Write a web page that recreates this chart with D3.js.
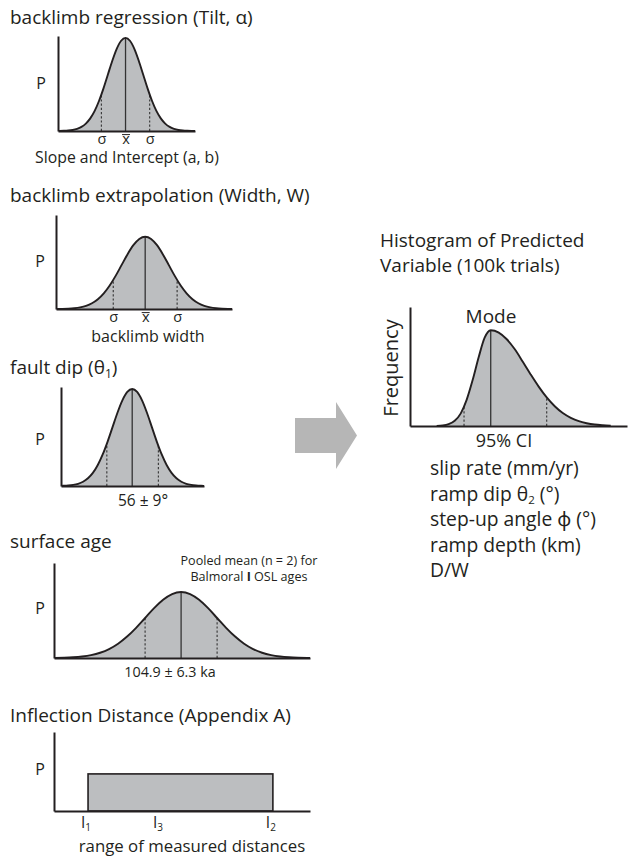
<!DOCTYPE html>
<html><head><meta charset="utf-8">
<script src="https://cdn.jsdelivr.net/npm/d3@7"></script>
<style>
body{margin:0;background:#fff}
text{font-family:"Open Sans","Noto Sans",sans-serif;fill:#231f20}
</style>
</head><body>
<svg id="chart" width="629" height="856"></svg>
<script>
// ---------- DATA ----------
// standard bell shape (z, relative density) used by the four normal panels
const gaussZ = [-4,-3.75,-3.5,-3.25,-3,-2.75,-2.5,-2.25,-2,-1.75,-1.5,-1.25,-1,-0.75,-0.5,-0.25,0,
                0.25,0.5,0.75,1,1.25,1.5,1.75,2,2.25,2.5,2.75,3,3.25,3.5,3.75,4];
const gaussP = [0.0003,0.0009,0.0022,0.0051,0.0111,0.0228,0.0439,0.0796,0.1353,0.2163,0.3247,0.4578,0.6065,0.7548,0.8825,0.9692,1,
                0.9692,0.8825,0.7548,0.6065,0.4578,0.3247,0.2163,0.1353,0.0796,0.0439,0.0228,0.0111,0.0051,0.0022,0.0009,0.0003];

const panelTitles = ["backlimb regression (Tilt, α)", "backlimb extrapolation (Width, W)", "fault dip (θ", "surface age", "Inflection Distance (Appendix A)"];
const xAxisLabels = ["Slope and Intercept (a, b)", "backlimb width", "56 ± 9°", "104.9 ± 6.3 ka", "range of measured distances"];

const regressionDomain = [-3.83, 3.94];
const regressionMarkers = [-1.37, 0, 1.37];
const regressionMarkerLabels = ["σ", "x", "σ"];
const regressionYMax = 1.02;

const widthDomain = [-3.77, 3.67];
const widthMarkers = [-1.35, 0, 1.35];
const widthMarkerLabels = ["σ", "x", "σ"];
const widthYMax = 1.30;

const dipDomain = [-3.62, 3.65];
const dipMarkers = [-1.29, 0, 1.33];
const dipYMax = 1.02;

const ageDomain = [-3.53, 3.58];
const ageMarkers = [-1.0, 0, 1.0];
const ageYMax = 1.44;
const ageNote = ["Pooled mean (n = 2) for", "Balmoral ", "I", " OSL ages"];

const inflDomain = [0, 10];
const inflRange = [1.33, 8.55];
const inflLevel = 1;
const inflYMax = 2.13;
const inflTicks = [1.33, 4.14, 8.55];
const inflTickMain = ["I", "I", "I"];
const inflTickSub = ["1", "3", "2"];

// predicted-variable histogram (skewed)
const histX = [1.23,1.51,1.78,2.06,2.34,2.61,2.89,3.17,3.44,3.72,4.09,4.46,4.83,5.19,5.56,5.93,6.30,6.67,7.04,7.41,7.78,8.14,8.51,8.88,9.25];
const histP = [0.0014,0.0056,0.019,0.054,0.132,0.273,0.482,0.723,0.922,1,0.976,0.906,0.801,0.674,0.539,0.411,0.298,0.206,0.135,0.085,0.050,0.029,0.015,0.0079,0.0039];
const histDomain = [0, 10];
const histYMax = 1.243;
const histMode = 3.72;
const histCI = [2.49, 6.30];
const histTitle = ["Histogram of Predicted", "Variable (100k trials)"];
const outputVars = ["slip rate (mm/yr)", "ramp dip θ|2| (°)", "step-up angle ϕ (°)", "ramp depth (km)", "D/W"];

// ---------- DRAW ----------
const svg = d3.select("#chart");
const FILL = "#bcbec0";
const INK = "#231f20";

function interp(xs, ps, v){
  for(let i=0;i<xs.length-1;i++){
    if(v>=xs[i] && v<=xs[i+1]){
      const t=(v-xs[i])/(xs[i+1]-xs[i]); return ps[i]+t*(ps[i+1]-ps[i]);
    }
  }
  return 0;
}

let clipId = 0;
function curvePanel(o){
  const x = d3.scaleLinear().domain(o.domain).range([o.x0, o.x1]);
  const y = d3.scaleLinear().domain([0, o.yMax]).range([o.yb, o.yt]);
  const g = svg.append("g");
  const id = "clip"+(clipId++);
  svg.append("clipPath").attr("id", id).append("rect")
     .attr("x", o.x0).attr("y", o.yt-5).attr("width", o.x1-o.x0).attr("height", o.yb-o.yt+5);
  const pts = o.xs.map((v,i)=>[v, o.ps[i]]);
  const cg = g.append("g").attr("clip-path", `url(#${id})`);
  cg.append("path").datum(pts)
    .attr("d", d3.area().x(d=>x(d[0])).y0(y(0)).y1(d=>y(d[1])).curve(d3.curveMonotoneX))
    .attr("fill", FILL);
  o.markers.forEach((m,i)=>{
    const h = interp(o.xs, o.ps, m);
    cg.append("line").attr("x1", x(m)).attr("x2", x(m)).attr("y1", y(0)).attr("y2", y(h))
      .attr("stroke", "#333").attr("stroke-width", o.center===i ? 1.3 : 1.1)
      .attr("stroke-dasharray", o.center===i ? null : "2.2,2");
  });
  cg.append("path").datum(pts)
    .attr("d", d3.line().x(d=>x(d[0])).y(d=>y(d[1])).curve(d3.curveMonotoneX))
    .attr("fill", "none").attr("stroke", INK).attr("stroke-width", 1.9);
  axes(g, x, y, o);
  return {x, y, g};
}

function axes(g, x, y, o){
  const xa = d3.axisBottom(x).tickSize(0).tickSizeOuter(0).tickPadding(o.tickPad||4);
  if(o.tickLabels){ xa.tickValues(o.markers).tickFormat((d,i)=>o.tickLabels[i]); }
  else xa.tickValues([]);
  const gx = g.append("g").attr("transform", `translate(0,${o.yb})`).call(xa);
  gx.select(".domain").attr("stroke", INK).attr("stroke-width", 2);
  gx.selectAll("text").attr("font-size", 14.5).attr("font-family", "'Open Sans',sans-serif").attr("fill", INK);
  if(o.tickLabels){
    // bar over the mean symbol (x̄)
    gx.selectAll(".tick").filter((d,i)=>i===o.center)
      .append("line").attr("x1", -4).attr("x2", 4).attr("y1", 3.6).attr("y2", 3.6)
      .attr("stroke", INK).attr("stroke-width", 1);
  }
  const gy = g.append("g").attr("transform", `translate(${o.x0},0)`)
    .call(d3.axisLeft(y).tickValues([]).tickSizeOuter(0));
  gy.select(".domain").attr("stroke", INK).attr("stroke-width", 2);
}

function txt(x, y, s, size, anchor){
  return svg.append("text").attr("x", x).attr("y", y).attr("font-size", size)
    .attr("text-anchor", anchor||"start").text(s);
}

const TS = 19; // title size

// Panel 1
curvePanel({domain: regressionDomain, xs: gaussZ, ps: gaussP, yMax: regressionYMax,
  markers: regressionMarkers, tickLabels: regressionMarkerLabels, center: 1,
  x0: 58, x1: 195, yb: 131, yt: 36, tickPad: 2.5});
txt(10, 24, panelTitles[0], TS);
txt(41, 89, "P", 16, "middle");
txt(127, 163, xAxisLabels[0], 15.8, "middle");

// Panel 2
curvePanel({domain: widthDomain, xs: gaussZ, ps: gaussP, yMax: widthYMax,
  markers: widthMarkers, tickLabels: widthMarkerLabels, center: 1,
  x0: 56, x1: 232, yb: 309, yt: 215, tickPad: 2.5});
txt(10, 202, panelTitles[1], TS);
txt(40, 267, "P", 16, "middle");
txt(148, 342, xAxisLabels[1], 16, "middle");

// Panel 3
curvePanel({domain: dipDomain, xs: gaussZ, ps: gaussP, yMax: dipYMax,
  markers: dipMarkers, center: 1, x0: 61, x1: 204, yb: 486, yt: 387});
const t3 = txt(10, 374, panelTitles[2], TS);
t3.append("tspan").attr("dy", 4).attr("font-size", 12).text("1");
t3.append("tspan").attr("dy", -4).text(")");
txt(40, 445, "P", 16, "middle");
txt(143, 506, xAxisLabels[2], 15.5, "middle");

// Panel 4
curvePanel({domain: ageDomain, xs: gaussZ, ps: gaussP, yMax: ageYMax,
  markers: ageMarkers, center: 1, x0: 54, x1: 310, yb: 658, yt: 563});
txt(10, 548, panelTitles[3], TS);
txt(40, 614, "P", 16, "middle");
txt(170, 677, xAxisLabels[3], 14.3, "middle");
txt(249, 565, ageNote[0], 12.6, "middle");
const n2 = txt(249, 581, ageNote[1], 12.6, "middle");
n2.append("tspan").attr("font-weight", "bold").text(ageNote[2]);
n2.append("tspan").text(ageNote[3]);

// Panel 5 (uniform)
{
  const o = {x0: 54, x1: 310, yb: 811, yt: 732};
  const x = d3.scaleLinear().domain(inflDomain).range([o.x0, o.x1]);
  const y = d3.scaleLinear().domain([0, inflYMax]).range([o.yb, o.yt]);
  const g = svg.append("g");
  g.append("rect").attr("x", x(inflRange[0])).attr("width", x(inflRange[1])-x(inflRange[0]))
    .attr("y", y(inflLevel)).attr("height", y(0)-y(inflLevel))
    .attr("fill", FILL).attr("stroke", INK).attr("stroke-width", 1.6);
  axes(g, x, y, o);
  inflTicks.forEach((t,i)=>{
    const tt = txt(x(t)-2, 828, inflTickMain[i], 15.5, "middle");
    tt.append("tspan").attr("dy", 3).attr("font-size", 10).text(inflTickSub[i]);
  });
  txt(10, 722, panelTitles[4], TS);
  txt(40, 775, "P", 16, "middle");
  txt(192, 852, xAxisLabels[4], 16.8, "middle");
}

// Arrow
svg.append("path")
  .attr("d", d3.line()([[295,418],[336,418],[336,402],[357,435.5],[336,469],[336,453],[295,453]]) + "Z")
  .attr("fill", "#b6b6b6");

// Right panel (histogram of predicted variable)
curvePanel({domain: histDomain, xs: histX, ps: histP, yMax: histYMax,
  markers: [histCI[0], histMode, histCI[1]], center: 1, x0: 410, x1: 627, yb: 426, yt: 307});
txt(380, 247, histTitle[0], 19);
txt(380, 272, histTitle[1], 19);
svg.append("text").attr("transform", "translate(398,368) rotate(-90)")
  .attr("text-anchor", "middle").attr("font-size", 20).text("Frequency");
txt(491, 323, "Mode", 19, "middle");
txt(504, 447, "95% CI", 18, "middle");
outputVars.forEach((s,i)=>{
  const parts = s.split("|");
  const t = txt(430, 475 + i*25.5, parts[0], 19.3);
  if(parts.length>1){
    t.append("tspan").attr("dy", 3).attr("font-size", 11.5).text(parts[1]);
    t.append("tspan").attr("dy", -3).text(parts[2]);
  }
});
</script>
</body></html>
